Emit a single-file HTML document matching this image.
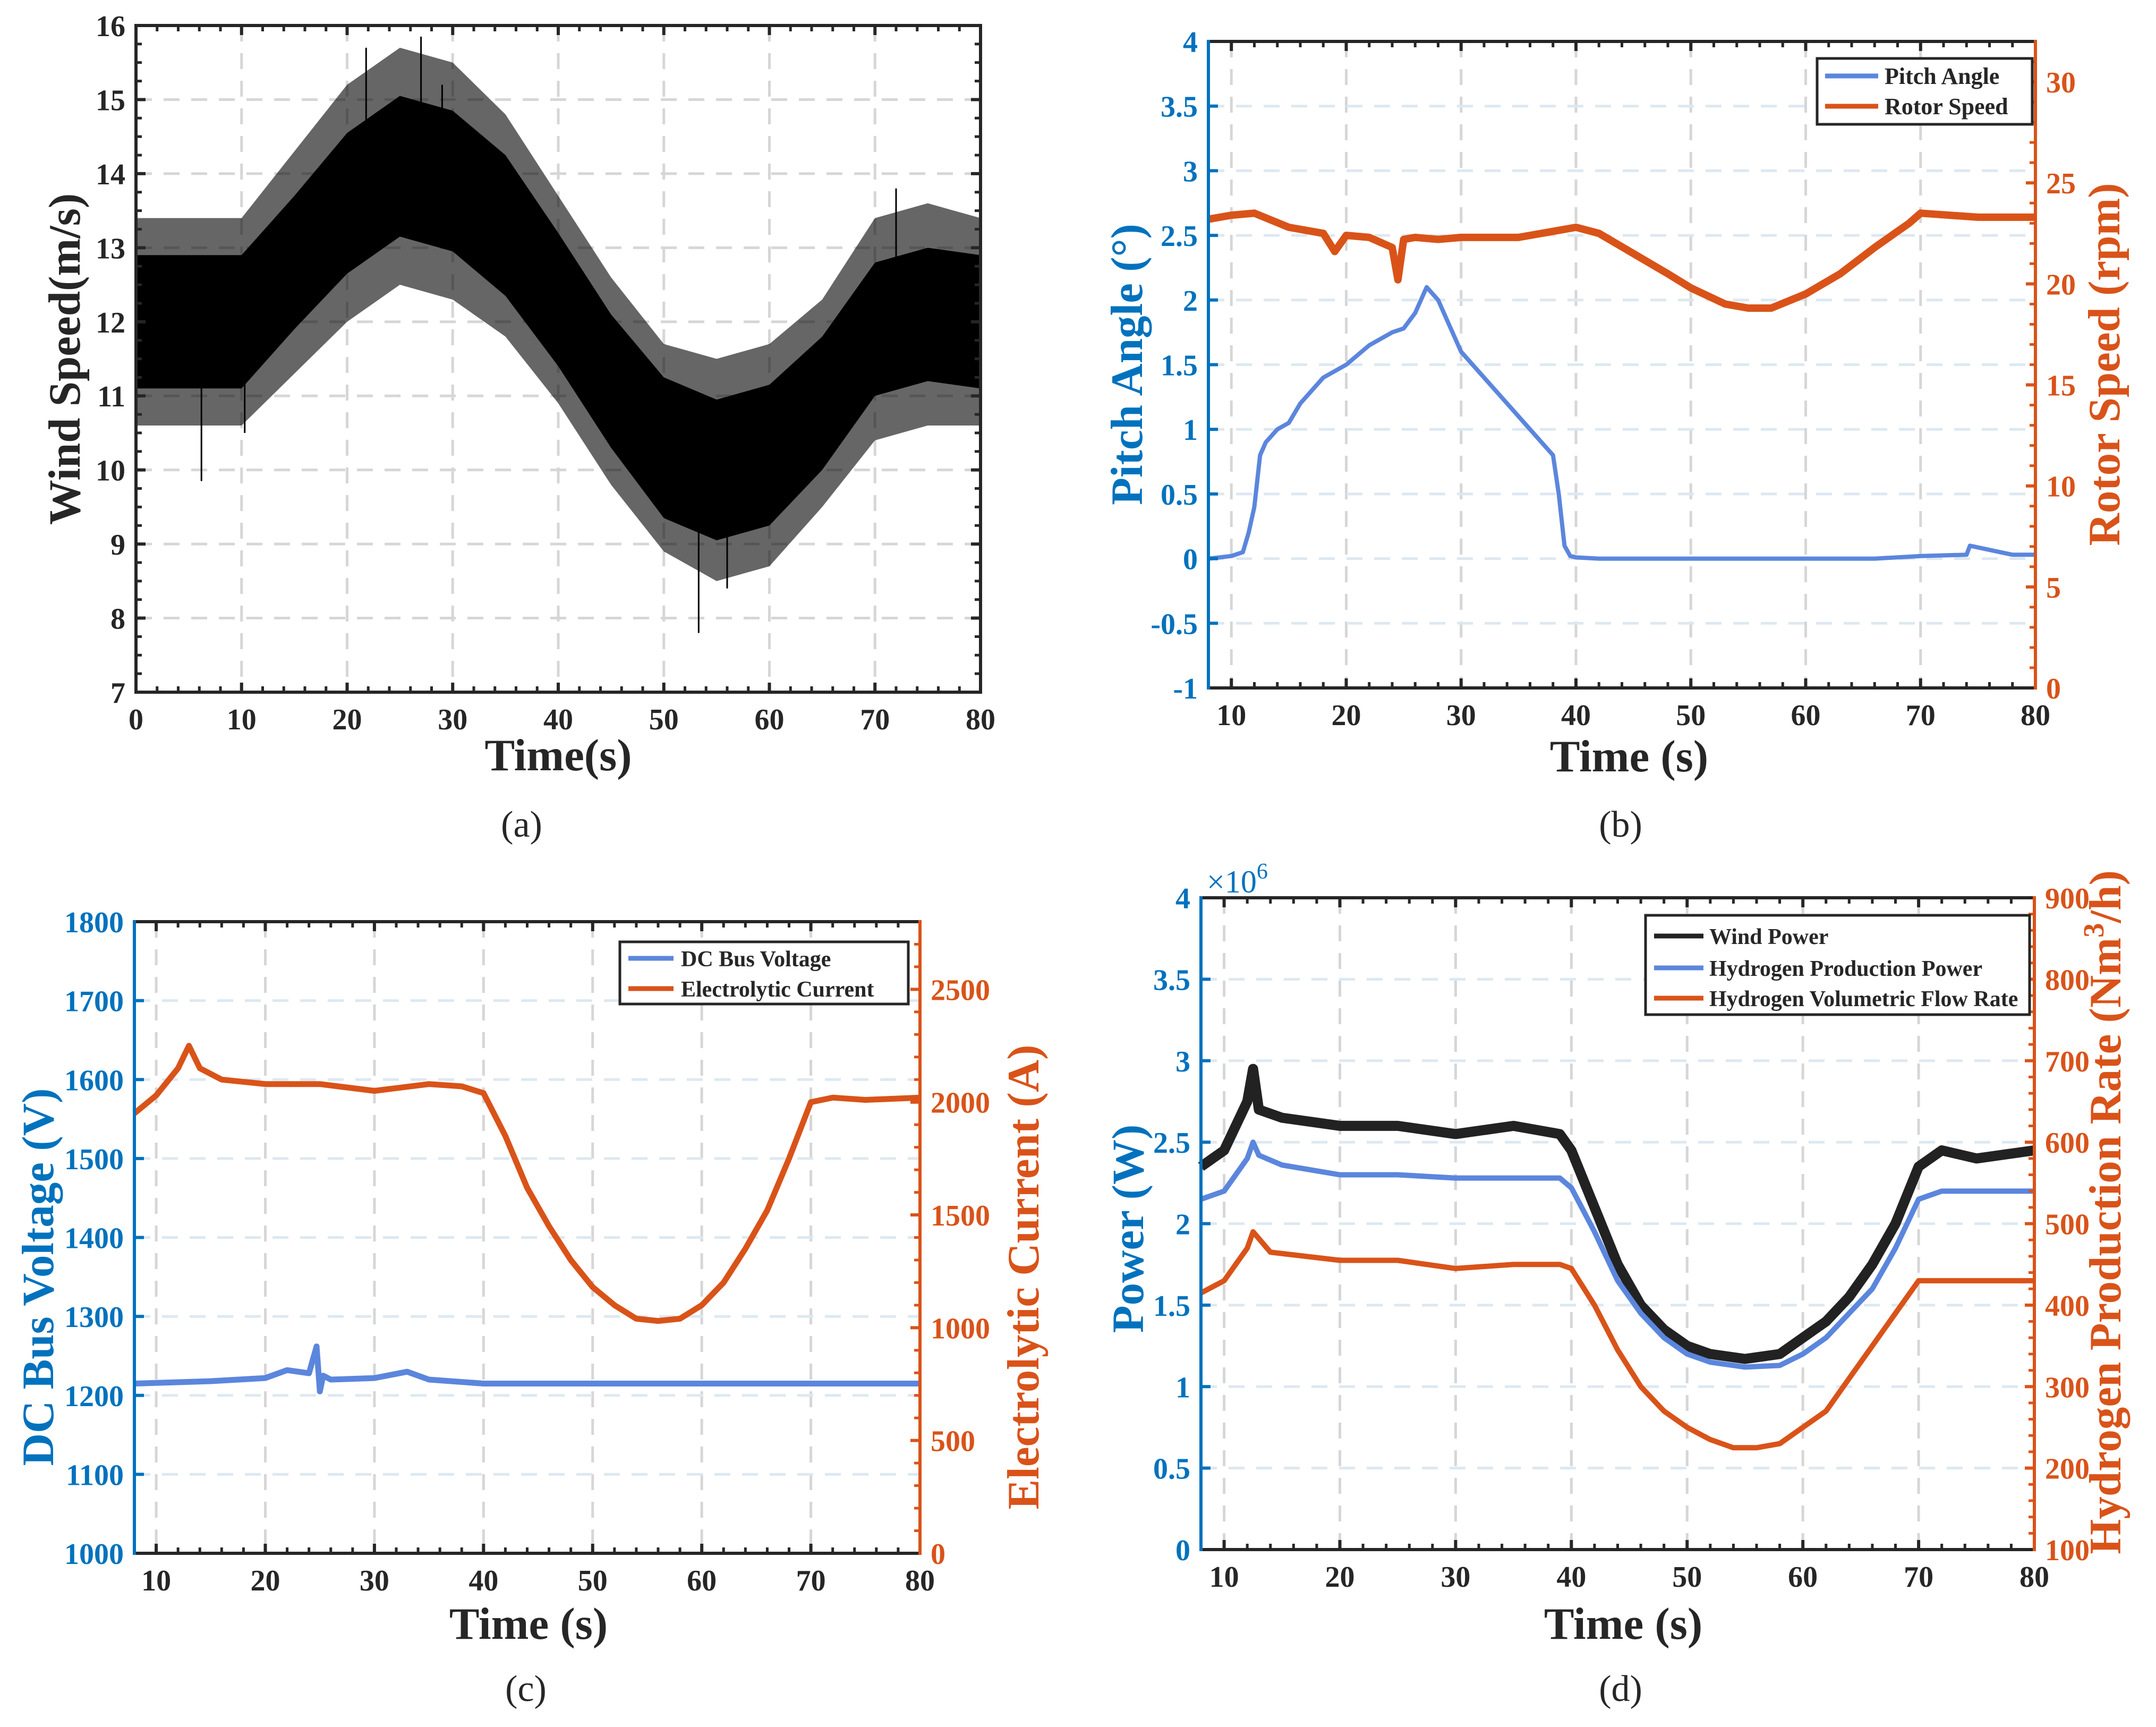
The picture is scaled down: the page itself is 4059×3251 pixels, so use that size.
<!DOCTYPE html>
<html><head><meta charset="utf-8"><style>
html,body{margin:0;padding:0;background:#fff}
svg{display:block}
text{font-family:"Liberation Serif",serif;font-weight:bold}
</style></head><body>
<svg id="fig" xmlns="http://www.w3.org/2000/svg" width="4059" height="3251" viewBox="0 0 4059 3251"></svg>
<script>
// ---------- DATA ----------
const windT = [0,5,10,15,20,25,30,35,40,45,50,55,60,65,70,75,80];
const windMean = [12.0,12.0,12.0,12.8,13.6,14.1,13.9,13.3,12.3,11.2,10.3,10.0,10.2,10.9,11.9,12.1,12.0];
const windCoreHalf = [0.9,0.9,0.9,0.9,0.95,0.95,0.95,0.95,0.9,0.9,0.95,0.95,0.95,0.9,0.9,0.9,0.9];
const windOuterHalf = [1.4,1.4,1.4,1.5,1.6,1.6,1.6,1.5,1.4,1.4,1.4,1.5,1.5,1.4,1.5,1.5,1.4];
const windSpikeT = [6.2,10.3,21.8,27.0,29.0,53.3,56.0,72.0];
const windSpikeV = [9.85,10.5,15.7,15.85,15.2,7.8,8.4,13.8];
const xTicksA = [0,10,20,30,40,50,60,70,80];
const yTicksA = [7,8,9,10,11,12,13,14,15,16];

const pitchT = [8,10,11,11.5,12,12.5,13,14,15,16,18,20,22,24,25,26,27,28,29,30,32,34,36,38,38.5,39,39.5,40,42,66,70,74,74.3,78,80];
const pitchV = [0,0.02,0.05,0.2,0.4,0.8,0.9,1.0,1.05,1.2,1.4,1.5,1.65,1.75,1.78,1.9,2.1,2.0,1.8,1.6,1.4,1.2,1.0,0.8,0.5,0.1,0.02,0.01,0,0,0.02,0.03,0.1,0.03,0.03];
const rotorT = [8,10,12,15,18,19,20,22,24,24.5,25,26,28,30,35,38,40,42,45,48,50,53,55,57,60,63,66,69,70,75,80];
const rotorV = [23.2,23.4,23.5,22.8,22.5,21.6,22.4,22.3,21.8,20.2,22.2,22.3,22.2,22.3,22.3,22.6,22.8,22.5,21.5,20.5,19.8,19.0,18.8,18.8,19.5,20.5,21.8,23.0,23.5,23.3,23.3];
const xTicksB = [10,20,30,40,50,60,70,80];
const yTicksBL = [-1,-0.5,0,0.5,1,1.5,2,2.5,3,3.5,4];
const yTicksBR = [0,5,10,15,20,25,30];

const busT = [8,15,20,22,24,24.7,25,25.3,26,30,33,35,40,60,80];
const busV = [1215,1218,1222,1232,1228,1262,1205,1225,1220,1222,1230,1220,1215,1215,1215];
const curT = [8,10,12,13,14,16,20,25,30,35,38,40,42,44,46,48,50,52,54,56,58,60,62,64,66,68,70,72,75,80];
const curV = [1950,2030,2150,2250,2150,2100,2080,2080,2050,2080,2070,2040,1850,1620,1450,1300,1180,1100,1040,1030,1040,1100,1200,1350,1520,1750,2000,2020,2010,2020];
const yTicksCL = [1000,1100,1200,1300,1400,1500,1600,1700,1800];
const yTicksCR = [0,500,1000,1500,2000,2500];

const powT = [8,10,12,12.5,13,15,20,25,30,35,39,40,42,44,46,48,50,52,55,58,60,62,64,66,68,70,72,75,80];
const windPowV = [2.35,2.45,2.75,2.95,2.7,2.65,2.6,2.6,2.55,2.6,2.55,2.45,2.1,1.75,1.5,1.35,1.25,1.2,1.17,1.2,1.3,1.4,1.55,1.75,2.0,2.35,2.45,2.4,2.45];
const h2PowV = [2.15,2.2,2.4,2.5,2.42,2.36,2.3,2.3,2.28,2.28,2.28,2.22,1.95,1.65,1.45,1.3,1.2,1.15,1.12,1.13,1.2,1.3,1.45,1.6,1.85,2.15,2.2,2.2,2.2];
const flowT = [8,10,12,12.5,14,20,25,30,35,39,40,42,44,46,48,50,52,54,56,58,60,62,64,66,68,70,72,75,80];
const flowV = [415,430,470,490,465,455,455,445,450,450,445,400,345,300,270,250,235,225,225,230,250,270,310,350,390,430,430,430,430];
const yTicksDL = [0,0.5,1,1.5,2,2.5,3,3.5,4];
const yTicksDR = [100,200,300,400,500,600,700,800,900];

// ---------- DRAWING ----------
const NS = "http://www.w3.org/2000/svg";
const svg = document.getElementById('fig');
const BLUE = "#0072BD", ORANGE = "#D95319", BLK = "#262626", LBLUE = "#5B86DD";
function mk(tag, attrs, parent){ const e=document.createElementNS(NS,tag); for(const k in attrs) e.setAttribute(k,attrs[k]); (parent||svg).appendChild(e); return e; }
function txt(s, attrs, parent){ const e=mk('text',attrs,parent); e.textContent=s; return e; }

function makeAxes(p){
  const g = mk('g',{});
  
  
  p.g = g;
  p.sx = t => p.L + (t-p.xmin)/(p.xmax-p.xmin)*(p.R-p.L);
  p.syL = v => p.B - (v-p.yL[0])/(p.yL[1]-p.yL[0])*(p.B-p.T);
  if(p.yR) p.syR = v => p.B - (v-p.yR[0])/(p.yR[1]-p.yR[0])*(p.B-p.T);
  const gg = mk('g',{},g);
  
  
  p.xTicks.forEach(t=>{ if(t<=p.xmin||t>=p.xmax) return;
    const l=mk('line',{x1:p.sx(t),x2:p.sx(t),y1:p.T,y2:p.B,stroke:'#d6d6d6','stroke-width':5,'stroke-dasharray':'30 22'},gg);
    
    
  });
  p.yTicksL.forEach(v=>{ if(v<=p.yL[0]||v>=p.yL[1]) return;
    const l=mk('line',{x1:p.L,x2:p.R,y1:p.syL(v),y2:p.syL(v),stroke:p.hgrid,'stroke-width':5,'stroke-dasharray':'30 22'},gg);
    
    
  });
}
function finishAxes(p){
  const g=p.g;
  const lc = p.yR ? BLUE : BLK, rc = p.yR ? ORANGE : BLK;
  for(let t=Math.ceil(p.xmin/2)*2; t<=p.xmax; t+=2){
    const major = p.xTicks.includes(t); const len = major?18:11;
    [[p.B,-1],[p.T,1]].forEach(([y,d])=>{
      const l=mk('line',{x1:p.sx(t),x2:p.sx(t),y1:y,y2:y+d*len,stroke:BLK,'stroke-width':major?6:5},g);
      
      
    });
  }
  const stepL = p.yTicksL[1]-p.yTicksL[0];
  const nMinL = p.minorL||5;
  for(let i=0;i<(p.yTicksL.length-1)*nMinL+1;i++){
    const v=p.yTicksL[0]+i*stepL/nMinL; const major=(i%nMinL===0); const len=major?18:11;
    const y=p.syL(v);
    const l=mk('line',{x1:p.L,x2:p.L+len,y1:y,y2:y,stroke:lc,'stroke-width':major?6:5},g);
    
    
    if(!p.yR){
      const r=mk('line',{x1:p.R,x2:p.R-len,y1:y,y2:y,stroke:BLK,'stroke-width':major?6:5},g);
      
      
    }
  }
  if(p.yR){
    const stepR=p.yTicksR[1]-p.yTicksR[0]; const nMinR=p.minorR||5;
    for(let v=p.yR[0]; v<=p.yR[1]+1e-9; v+=stepR/nMinR){
      const major = Math.abs(((v-p.yTicksR[0])/stepR)-Math.round((v-p.yTicksR[0])/stepR))<1e-6;
      const y=p.syR(v);
      const r=mk('line',{x1:p.R,x2:p.R-(major?18:11),y1:y,y2:y,stroke:ORANGE,'stroke-width':major?6:5},g);
      
      
    }
  }
  const sp=[['top-spine',p.L,p.T,p.R,p.T,BLK],['bottom-spine',p.L,p.B,p.R,p.B,BLK],['left-spine',p.L,p.T,p.L,p.B,lc],['right-spine',p.R,p.T,p.R,p.B,rc]];
  sp.forEach(s=>{
    const l=mk('line',{x1:s[1],y1:s[2],x2:s[3],y2:s[4],stroke:s[5],'stroke-width':6,'stroke-linecap':'square'},g);
    
    
  });
  p.xTicks.forEach(t=>{
    const e=txt(String(t),{x:p.sx(t),y:p.B+70,'font-size':56,'text-anchor':'middle',fill:BLK},g);
    
    
  });
  p.yTicksL.forEach(v=>{
    const e=txt(String(v),{x:p.L-20,y:p.syL(v)+20,'font-size':56,'text-anchor':'end',fill:lc},g);
    
    
  });
  if(p.yR) p.yTicksR.forEach(v=>{
    const e=txt(String(v),{x:p.R+20,y:p.syR(v)+20,'font-size':56,'text-anchor':'start',fill:ORANGE},g);
    
    
  });
}
function line(p, T, V, sy, color, w, name){
  const pts=T.map((t,i)=>p.sx(t).toFixed(1)+','+sy(V[i]).toFixed(1)).join(' ');
  const e=mk('polyline',{points:pts,fill:'none',stroke:color,'stroke-width':w,'stroke-linejoin':'round'},p.g);
  
  
  return e;
}
function title(s, x, y, rot, color, size, name, weight){
  const a={x:x,y:y,'font-size':size,'text-anchor':'middle',fill:color};
  if(rot) a.transform='rotate(-90 '+x+' '+y+')';
  if(weight) a.style='font-weight:'+weight;
  const e=txt(s,a);
  
  
  return e;
}
function legend(x,y,w,h,items,rowY,lineX1,lineX2,textX,fs,name){
  const g=mk('g',{});
  
  
  const r=mk('rect',{x:x,y:y,width:w,height:h,fill:'#fff',stroke:BLK,'stroke-width':5},g);
  
  
  items.forEach((it,i)=>{
    const l=mk('line',{x1:lineX1,x2:lineX2,y1:rowY[i],y2:rowY[i],stroke:it[1],'stroke-width':9},g);
    
    
    const t=txt(it[0],{x:textX,y:rowY[i]+15,'font-size':fs,fill:BLK},g);
    
    
  });
}

// ----- Panel (a)
const pa={name:'panel-a-wind-speed',L:256,R:1846,T:48,B:1303,xmin:0,xmax:80,yL:[7,16],xTicks:xTicksA,yTicksL:yTicksA,hgrid:'#d6d6d6',minorL:4};
makeAxes(pa);
(function(){
  const up=[],lo=[],up2=[],lo2=[];
  windT.forEach((t,i)=>{up.push(pa.sx(t)+','+pa.syL(windMean[i]+windCoreHalf[i]));lo.unshift(pa.sx(t)+','+pa.syL(windMean[i]-windCoreHalf[i]));
    up2.push(pa.sx(t)+','+pa.syL(windMean[i]+windOuterHalf[i]));lo2.unshift(pa.sx(t)+','+pa.syL(windMean[i]-windOuterHalf[i]));});
  const o=mk('polygon',{points:up2.concat(lo2).join(' '),fill:'#000','fill-opacity':0.6},pa.g);
  
  
  const c=mk('polygon',{points:up.concat(lo).join(' '),fill:'#000'},pa.g);
  
  
  windSpikeT.forEach((t,i)=>{
    const k=Math.min(windT.length-1,Math.round(t/5));
    const s=mk('line',{x1:pa.sx(t),x2:pa.sx(t),y1:pa.syL(windMean[k]),y2:pa.syL(windSpikeV[i]),stroke:'#000','stroke-width':3},pa.g);
    
    
  });
})();
finishAxes(pa);
title('Wind Speed(m/s)',150,676,true,BLK,85,'y-axis-title-a');
title('Time(s)',1051,1450,false,BLK,85,'x-axis-title-a');
title('(a)',982,1575,false,BLK,70,'caption-a','normal');

// ----- Panel (b)
const pb={name:'panel-b-pitch-rotor',L:2275,R:3832,T:78,B:1295,xmin:8,xmax:80,yL:[-1,4],yR:[0,32],xTicks:xTicksB,yTicksL:yTicksBL,yTicksR:yTicksBR,hgrid:'#dde8f1',minorL:1,minorR:5};
makeAxes(pb);
line(pb,rotorT,rotorV,pb.syR,ORANGE,14,'rotor-speed-line');
line(pb,pitchT,pitchV,pb.syL,LBLUE,8,'pitch-angle-line');
finishAxes(pb);
legend(3421,110,405,124,[['Pitch Angle',LBLUE],['Rotor Speed',ORANGE]],[143,200],3436,3536,3548,44,'legend-b');
title('Pitch Angle (°)',2150,686,true,BLUE,85,'y-left-title-b');
title('Rotor Speed (rpm)',3990,686,true,ORANGE,85,'y-right-title-b');
title('Time (s)',3067,1452,false,BLK,85,'x-axis-title-b');
title('(b)',3051,1575,false,BLK,70,'caption-b','normal');

// ----- Panel (c)
const pc={name:'panel-c-voltage-current',L:253,R:1732,T:1735,B:2924,xmin:8,xmax:80,yL:[1000,1800],yR:[0,2800],xTicks:xTicksB,yTicksL:yTicksCL,yTicksR:yTicksCR,hgrid:'#dde8f1',minorL:1,minorR:5};
makeAxes(pc);
line(pc,busT,busV,pc.syL,LBLUE,11,'dc-bus-voltage-line');
line(pc,curT,curV,pc.syR,ORANGE,11,'electrolytic-current-line');
finishAxes(pc);
legend(1167,1773,543,117,[['DC Bus Voltage',LBLUE],['Electrolytic Current',ORANGE]],[1804,1861],1183,1268,1282,42,'legend-c');
title('DC Bus Voltage (V)',100,2404,true,BLUE,85,'y-left-title-c');
title('Electrolytic Current (A)',1955,2404,true,ORANGE,85,'y-right-title-c');
title('Time (s)',995,3085,false,BLK,85,'x-axis-title-c');
title('(c)',990,3202,false,BLK,70,'caption-c','normal');

// ----- Panel (d)
const pd={name:'panel-d-power-hydrogen',L:2261,R:3830,T:1690,B:2917,xmin:8,xmax:80,yL:[0,4],yR:[100,900],xTicks:xTicksB,yTicksL:yTicksDL,yTicksR:yTicksDR,hgrid:'#dde8f1',minorL:1,minorR:5};
makeAxes(pd);
line(pd,powT,windPowV,pd.syL,'#222',19,'wind-power-line');
line(pd,powT,h2PowV,pd.syL,LBLUE,10,'hydrogen-production-power-line');
line(pd,flowT,flowV,pd.syR,ORANGE,10,'hydrogen-flow-rate-line');
finishAxes(pd);
legend(3098,1723,723,187,[['Wind Power','#222'],['Hydrogen Production Power',LBLUE],['Hydrogen Volumetric Flow Rate',ORANGE]],[1762,1822,1879],3114,3207,3218,42,'legend-d');
(function(){
  const e=txt('',{x:2272,y:1680,'font-size':60,fill:BLUE,style:'font-weight:normal'});
  
  
  const a=document.createElementNS(NS,'tspan'); a.textContent='×10'; e.appendChild(a);
  const b=document.createElementNS(NS,'tspan'); b.setAttribute('dy','-26'); b.setAttribute('font-size','42'); b.textContent='6'; e.appendChild(b);
})();
title('Power (W)',2152,2313,true,BLUE,85,'y-left-title-d');
(function(){
  const x=3992,y=2282;
  const e=txt('',{x:x,y:y,'font-size':85,'text-anchor':'middle',fill:ORANGE,transform:'rotate(-90 '+x+' '+y+')'});
  
  
  const a=document.createElementNS(NS,'tspan'); a.textContent='Hydrogen Production Rate (Nm'; e.appendChild(a);
  const b=document.createElementNS(NS,'tspan'); b.setAttribute('dy','-32'); b.setAttribute('font-size','55'); b.textContent='3'; e.appendChild(b);
  const c=document.createElementNS(NS,'tspan'); c.setAttribute('dy','32'); c.textContent='/h)'; e.appendChild(c);
})();
title('Time (s)',3056,3085,false,BLK,85,'x-axis-title-d');
title('(d)',3051,3202,false,BLK,70,'caption-d','normal');
</script>
</body></html>
